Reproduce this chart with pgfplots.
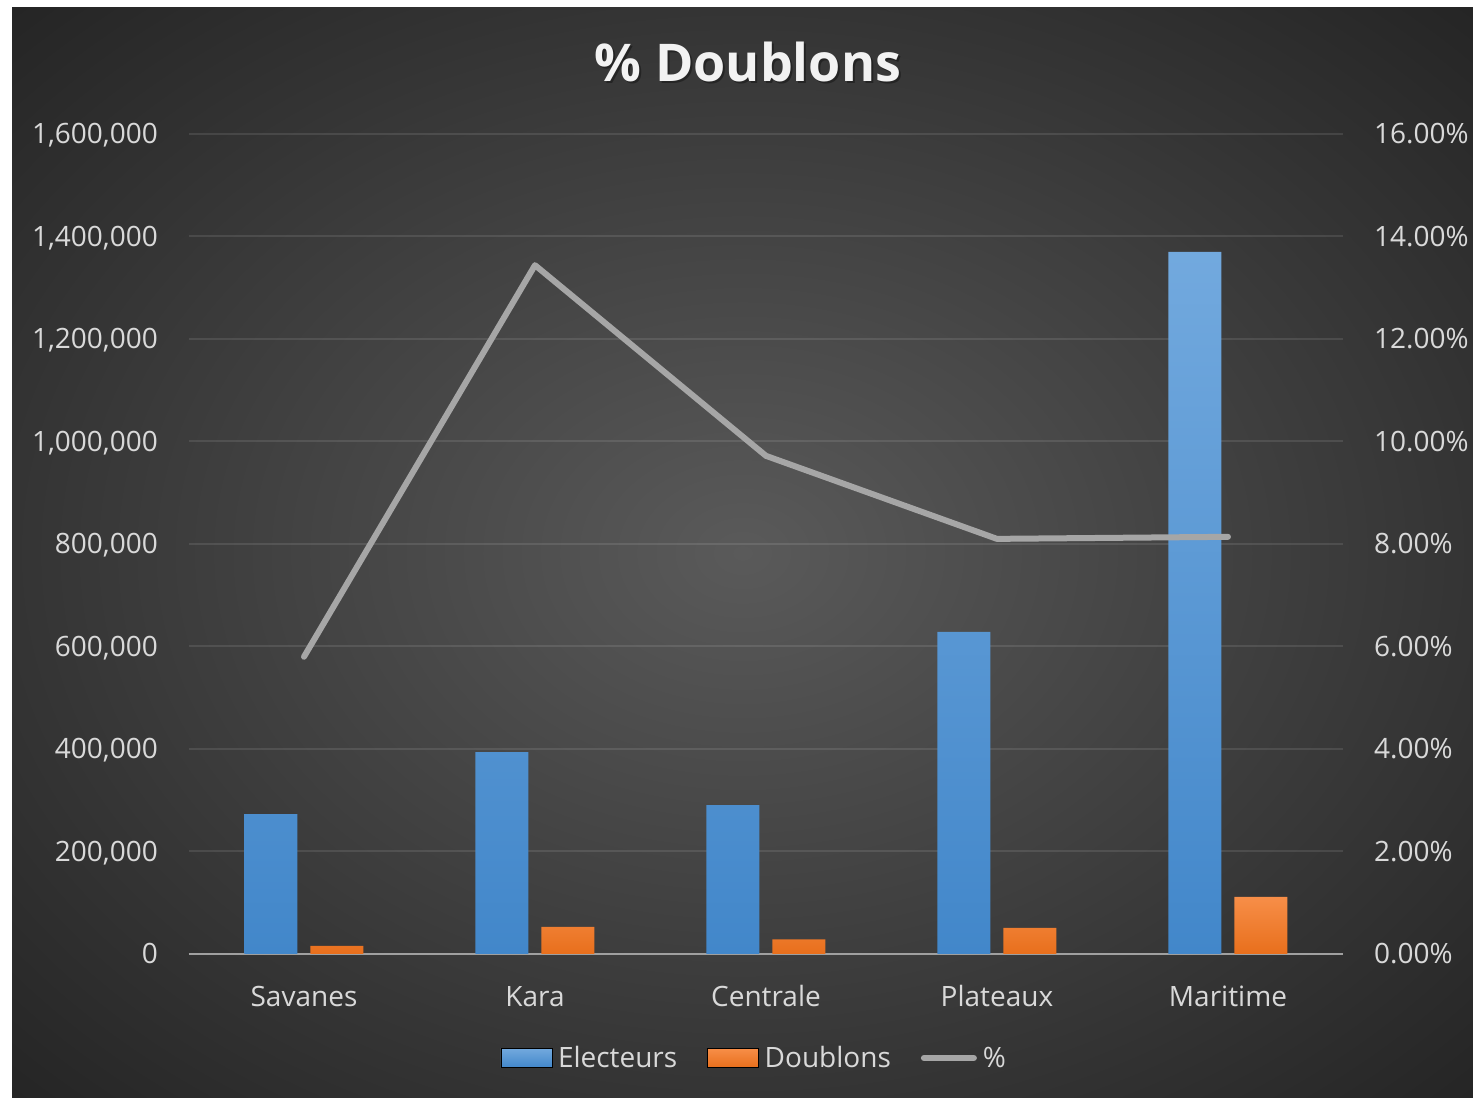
\documentclass[border=0pt]{standalone}
\usepackage{fontspec}
\setmainfont{Open Sans}
\usepackage{pgfplots}
\pgfplotsset{compat=1.18}

\definecolor{bgc}{RGB}{90,90,90}
\definecolor{bge}{RGB}{52,52,52}
\definecolor{bgk}{RGB}{36,36,36}
\definecolor{txt}{RGB}{217,217,217}
\definecolor{bluetop}{RGB}{114,169,222}
\definecolor{bluebot}{RGB}{66,135,202}
\definecolor{orgtop}{RGB}{247,142,72}
\definecolor{orgbot}{RGB}{232,111,28}
\definecolor{linegray}{RGB}{166,166,166}
\definecolor{axgray}{RGB}{160,160,160}

\pgfdeclareradialshading{chartbg}{\pgfpoint{0bp}{0bp}}{%
  color(0bp)=(bgc); color(25bp)=(bge); color(36bp)=(bgk); color(50bp)=(bgk)}

\begin{document}
\begin{tikzpicture}
% page + chart area
\fill[white] (0,0) rectangle (1473bp,1098bp);
\shade[shading=chartbg] (12bp,0) rectangle (1473bp,1090bp);
\useasboundingbox (0,0) rectangle (1473bp,1098bp);

% title with a soft shadow
\node[anchor=base, text=black, opacity=0.35, font=\fontsize{52bp}{56bp}\bfseries]
  at (750bp,1014bp) {\% Doublons};
\node[anchor=base, text=white!95!black, font=\fontsize{52bp}{56bp}\bfseries]
  at (748bp,1016bp) {\% Doublons};

\pgfplotsset{
  common/.style={
    at={(188.5bp,144bp)}, anchor=south west,
    scale only axis, width=1155bp, height=820bp,
    xmin=-0.5, xmax=4.5,
    major tick length=0pt,
    tick label style={text=txt, font=\fontsize{28bp}{34bp}\selectfont, inner sep=0pt},
    /pgf/number format/assume math mode=true,
  },
}

% bars: Electeurs and Doublons
\begin{axis}[common,
    ymin=0, ymax=1600000,
    ytick={0,200000,...,1600000},
    scaled y ticks=false,
    /pgf/number format/fixed,
    /pgf/number format/1000 sep={,},
    y tick label style={anchor=base east, xshift=-30.5bp, yshift=-10bp},
    xtick={0,...,4},
    xticklabels={Savanes,Kara,Centrale,Plateaux,Maritime},
    x tick label style={anchor=base, yshift=-52bp},
    axis x line*=bottom, axis y line*=left,
    x axis line style={draw=axgray, line width=2.5bp},
    y axis line style={draw=none},
    ymajorgrids,
    grid style={white, opacity=0.1, line width=2bp},
    ybar, bar width=53bp,
]
\addplot[draw=none, top color=bluetop, bottom color=bluebot, bar shift=-33bp]
  coordinates {(0,273000) (1,394000) (2,290700) (3,628300) (4,1369800)};
\addplot[draw=none, top color=orgtop, bottom color=orgbot, bar shift=33bp]
  coordinates {(0,16000) (1,52900) (2,28300) (3,50900) (4,111400)};
\end{axis}

% line: % on the right axis
\begin{axis}[common,
    ymin=0, ymax=16,
    ytick={0,2,...,16},
    yticklabel={\pgfmathprintnumber[fixed,fixed zerofill,precision=2]{\tick}\%},
    y tick label style={anchor=base west, xshift=30.5bp, yshift=-10bp},
    axis y line*=right, y axis line style={draw=none},
    hide x axis,
    legend style={at={(0.489,-0.1268)}, anchor=center, draw=none, fill=none,
      text=txt, font=\fontsize{28bp}{34bp}\selectfont, legend columns=-1,
      nodes={inner sep=0pt},
      /tikz/every odd column/.append style={column sep=6bp},
      /tikz/every even column/.append style={column sep=30bp}},
    legend cell align=left,
]
\addlegendimage{legend image code/.code={\shade[top color=bluetop,bottom color=bluebot] (0bp,-9.5bp) rectangle (51bp,9.5bp);}}
\addlegendentry{Electeurs}
\addlegendimage{legend image code/.code={\shade[top color=orgtop,bottom color=orgbot] (0bp,-9.5bp) rectangle (51bp,9.5bp);}}
\addlegendentry{Doublons}
\addplot[draw=linegray, line width=6bp, line join=round, line cap=round, mark=none,
  legend image code/.code={\draw[linegray, line width=6bp, line cap=round] (3bp,0bp) -- (53bp,0bp);}]
  coordinates {(0,5.80) (1,13.44) (2,9.72) (3,8.10) (4,8.14)};
\addlegendentry{\%}
\end{axis}
\end{tikzpicture}
\end{document}
